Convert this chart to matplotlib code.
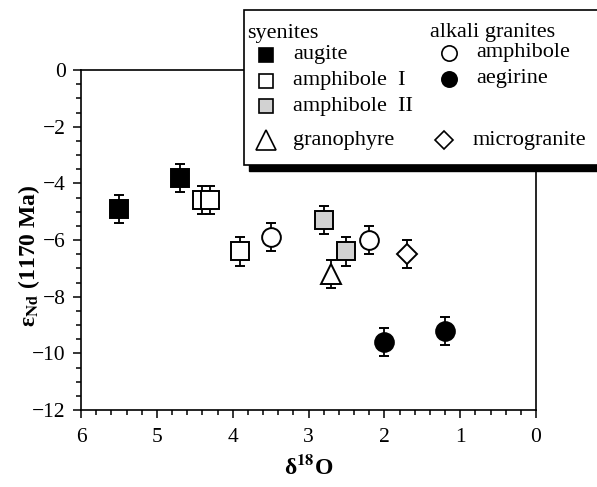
import matplotlib
matplotlib.use("Agg")
import matplotlib.pyplot as plt
from matplotlib.lines import Line2D
from matplotlib.patches import Rectangle
from matplotlib.ticker import MultipleLocator

plt.rcParams['font.family'] = ['Liberation Serif', 'DejaVu Serif']
plt.rcParams['mathtext.fontset'] = 'stix'

# ---- data ----
augite_x = [5.5, 4.7]
augite_y = [-4.9, -3.8]
amph1_x = [4.4, 4.3, 3.9]
amph1_y = [-4.6, -4.6, -6.4]
amph2_x = [2.8, 2.5]
amph2_y = [-5.3, -6.4]
gran_x = [2.7]
gran_y = [-7.2]
agamph_x = [3.5, 2.2]
agamph_y = [-5.9, -6.0]
aeg_x = [2.0, 1.2]
aeg_y = [-9.6, -9.2]
micro_x = [1.7]
micro_y = [-6.5]
err = 0.5

W, H = 597, 487
fig = plt.figure(figsize=(W / 100, H / 100), dpi=100)
ax = fig.add_axes([81 / W, 1 - 410 / H, (536 - 81) / W, (410 - 70) / H])

gray = '#d2d2d2'
series = [
    (augite_x, augite_y, 's', 'black', 13),
    (amph1_x, amph1_y, 's', 'white', 13),
    (amph2_x, amph2_y, 's', gray, 13),
    (gran_x, gran_y, '^', 'white', 14),
    (agamph_x, agamph_y, 'o', 'white', 13.5),
    (aeg_x, aeg_y, 'o', 'black', 13.5),
    (micro_x, micro_y, 'D', 'white', 10.5),
]
for xs, ys, m, fc, ms in series:
    ax.errorbar(xs, ys, yerr=[err] * len(xs), fmt=m, mfc=fc, mec='black',
                mew=1.4, ms=ms, ecolor='black', elinewidth=1.3, capsize=3.5,
                capthick=1.5, zorder=3)

ax.set_xlim(6, 0)
ax.set_ylim(-12, 0)
ax.xaxis.set_major_locator(MultipleLocator(1))
ax.xaxis.set_minor_locator(MultipleLocator(0.2))
ax.yaxis.set_major_locator(MultipleLocator(2))
ax.yaxis.set_minor_locator(MultipleLocator(0.5))
ax.tick_params(which='major', direction='out', length=6, width=1.1,
               labelsize=15.5)
ax.tick_params(axis='x', which='major', pad=7)
ax.tick_params(axis='y', which='major', pad=5)
ax.tick_params(which='minor', direction='out', length=3.5, width=1.1)
ax.set_yticks([0, -2, -4, -6, -8, -10, -12])
ax.set_yticklabels(['0', '\u22122', '\u22124', '\u22126', '\u22128',
                    '\u221210', '\u221212'])
for s in ax.spines.values():
    s.set_linewidth(1.2)

ax.set_xlabel(r'δ$^{\mathbf{18}}$O', fontsize=17, fontweight='bold')
ax.xaxis.set_label_coords(0.5, -(467 - 410) / 340, transform=ax.transAxes)
ax.xaxis.label.set_va('center')
ax.set_ylabel(r'ε$_{\mathbf{Nd}}$ (1170 Ma)', fontsize=17, fontweight='bold')
ax.yaxis.set_label_coords(-(81 - 29) / 455, (410 - 256) / 340)
ax.yaxis.label.set_va('center')


# ---- legend box (figure pixel coords) ----
def fx(px):
    return px / W


def fy(py):
    return 1 - py / H


shadow = Rectangle((fx(249), fy(171)), fx(620) - fx(249), fy(15) - fy(171),
                   transform=fig.transFigure, facecolor='black',
                   edgecolor='black', zorder=5)
box = Rectangle((fx(244), fy(165)), fx(620) - fx(244), fy(10) - fy(165),
                transform=fig.transFigure, facecolor='white',
                edgecolor='black', lw=1.2, zorder=6)
fig.add_artist(shadow)
fig.add_artist(box)

fs = 16
fig.text(fx(247), fy(33), 'syenites', fontsize=fs, va='center', zorder=8)
fig.text(fx(430), fy(32), 'alkali granites', fontsize=fs, va='center', zorder=8)
entries = [
    (266, 55, 's', 'black', 10, 'augite', 293),
    (266, 81, 's', 'white', 10, 'amphibole  I', 293),
    (266, 106, 's', gray, 10, 'amphibole  II', 293),
    (266, 140, '^', 'white', 14, 'granophyre', 293),
    (449, 53, 'o', 'white', 11, 'amphibole', 476),
    (449, 79, 'o', 'black', 11, 'aegirine', 476),
    (444, 140, 'D', 'white', 9, 'microgranite', 473),
]
for mx, my, m, fc, ms, label, tx in entries:
    fig.add_artist(Line2D([fx(mx)], [fy(my)], transform=fig.transFigure,
                          marker=m, ms=ms, mfc=fc, mec='black', mew=1.2,
                          linestyle='none', zorder=7))
    fig.text(fx(tx), fy(my), label, fontsize=fs, va='center', zorder=8)

fig.savefig('out.png', dpi=100)
